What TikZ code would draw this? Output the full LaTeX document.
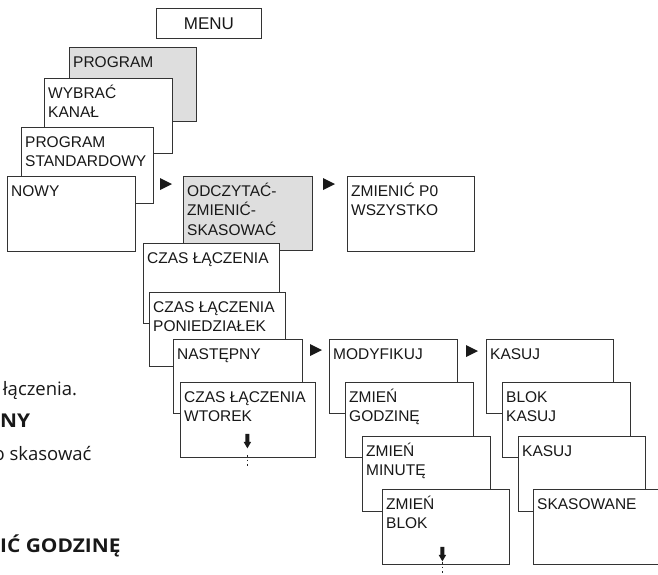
\documentclass[tikz,border=0pt]{standalone}
\usepackage{fontspec}
\setmainfont{Liberation Sans}
\newfontfamily\bodyfont{Open Sans}
\newfontfamily\headfont{Open Sans}[FakeStretch=1.1]
\usetikzlibrary{calc}

\definecolor{frame}{HTML}{333333}
\definecolor{ink}{HTML}{181818}
\definecolor{shade}{HTML}{DEDEDE}

% multi-line caption whose baseline is the first line
\newcommand\boxlines[1]{\parbox[t]{140pt}{\raggedright\fontsize{15.5}{19.8}\selectfont #1}}
% display screen: name, left, top, width, height, extra style, caption
\newcommand\screen[7]{%
  \node[screen,#6,minimum width=#4pt,minimum height=#5pt] (#1) at (#2,#3) {};
  \node[caption] (#1-t) at ($(#1.north west)+(4,20)$) {\boxlines{#7}};}
% black "next" marker pointing right
\newcommand\nextmark[1]{\fill[marker] (#1) -- ++(12,6) -- ++(-12,6) -- cycle;}
% short thick down arrow
\newcommand\downmark[1]{\fill[marker] (#1) ++(-2,0) -- ++(4,0) -- ++(0,8) -- ++(1.8,0)
  -- ++(-3.8,6.5) -- ++(-3.8,-6.5) -- ++(1.8,0) -- cycle;}

\begin{document}
\begin{tikzpicture}[x=1pt,y=-1pt,
  screen/.style={draw=frame, line width=0.8pt, fill=white, rectangle,
    inner sep=0pt, anchor=north west},
  shaded/.style={fill=shade},
  plain/.style={},
  caption/.style={anchor=base west, inner sep=0pt, text=ink},
  marker/.style={fill=black!90},
  dotline/.style={draw=black!85, line width=1.5pt, dash pattern=on 1.8pt off 3pt},
  frag/.style={inner sep=0pt, text=ink, font=\bodyfont\fontsize{18.5}{22}\selectfont},
  fragbold/.style={frag, font=\headfont\bfseries\fontsize{19}{22}\selectfont}]
\useasboundingbox (0,0) rectangle (658,574);
\clip (0,0) rectangle (658,574);

% top menu
\node[screen, minimum width=105pt, minimum height=30pt, text=ink,
  font=\fontsize{17}{20}\selectfont] (menu) at (156,8) {MENU};

% program branch
\screen{prog}{69}{47}{127}{74}{shaded}{PROGRAM}
\screen{wyb}{44}{78}{128}{75}{plain}{WYBRAĆ\\KANAŁ}
\screen{std}{21}{127}{132}{76}{plain}{PROGRAM\\STANDARDOWY}
\screen{nowy}{7}{176}{128}{75}{plain}{NOWY}

% read / change / delete
\screen{odcz}{183}{176}{129}{74}{shaded}{ODCZYTAĆ-\\ZMIENIĆ-\\SKASOWAĆ}
\screen{zmp0}{347}{176}{127}{75}{plain}{ZMIENIĆ P0\\WSZYSTKO}
\screen{czas}{143}{243}{136}{80}{plain}{CZAS ŁĄCZENIA}
\screen{pon}{149}{292}{136}{74}{plain}{CZAS ŁĄCZENIA\\PONIEDZIAŁEK}
\screen{nast}{173}{339}{129}{74}{plain}{NASTĘPNY}
\screen{wt}{180}{382}{135}{75}{plain}{CZAS ŁĄCZENIA\\WTOREK}

% modify branch
\screen{mod}{329}{339}{128}{74}{plain}{MODYFIKUJ}
\screen{godz}{345}{382}{128}{75}{plain}{ZMIEŃ\\GODZINĘ}
\screen{min}{362}{436}{128}{75}{plain}{ZMIEŃ\\MINUTĘ}
\screen{blok}{382}{489}{127}{75}{plain}{ZMIEŃ\\BLOK}

% delete branch
\screen{kas}{486}{339}{127}{74}{plain}{KASUJ}
\screen{bkas}{502}{382}{128}{75}{plain}{BLOK\\KASUJ}
\screen{kas2}{518}{436}{127}{75}{plain}{KASUJ}
\screen{skas}{533}{489}{130}{75}{plain}{SKASOWANE}

% next markers
\nextmark{$(odcz.north west)+(-23,2)$}
\nextmark{$(zmp0.north west)+(-24,2)$}
\nextmark{$(mod.north west)+(-19,5)$}
\nextmark{$(kas.north west)+(-20,6)$}

% continuation arrows
\downmark{$(wt.south)+(-0.5,-24)$}
\draw[dotline] ($(wt.south)+(-0.5,-3)$) -- ++(0,13);
\downmark{$(blok.south)+(-3.5,-18)$}
\draw[dotline] ($(blok.south)+(-3.5,-3)$) -- ++(0,14);

% running text at the left margin
\node[frag, anchor=base west] (t1) at (2.7,395) {łączenia.};
\node[fragbold, anchor=base west] (t2) at (0,427) {NY};
\node[frag, anchor=base east] (t3) at (91.7,460) {o skasować};
\node[fragbold, anchor=base west] (t4) at (0,552.7) {IĆ GODZINĘ};
\end{tikzpicture}
\end{document}
